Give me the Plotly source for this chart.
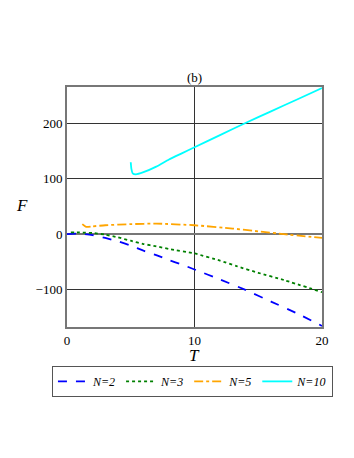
import plotly.graph_objects as go

# values
t_n2 = [0, 1, 2, 3, 4, 5, 6, 7, 8, 9, 10, 12, 14, 16, 18, 20]
f_n2 = [0, 1, -2, -7, -13, -21, -30, -38, -47, -55, -64, -82, -101, -122, -143, -166]

t_n3 = [0.3, 1, 2, 3, 4, 5, 6, 7, 8, 10, 12, 13.3, 15, 17, 20]
f_n3 = [3, 3, 2, -1, -6, -12, -18, -22, -27, -35, -48, -58, -70, -83, -105]

t_n5 = [1.2, 1.5, 2, 3, 5, 7, 10, 13, 15, 17, 20]
f_n5 = [18, 13, 14, 16, 18, 19, 16, 10, 5, 0, -7]

t_n10 = [5.0, 5.05, 5.15, 5.4, 6, 7, 8, 9, 10, 12, 14, 16, 18, 20]
f_n10 = [130, 118, 110, 108, 112, 122, 135, 146, 157, 179, 201, 222, 243, 264]

series = [
    ("N=2", t_n2, f_n2, "#0000ff", "dash"),
    ("N=3", t_n3, f_n3, "#008000", "dot"),
    ("N=5", t_n5, f_n5, "#ffa500", "dashdot"),
    ("N=10", t_n10, f_n10, "#00ffff", "solid"),
]

serif = "Liberation Serif, Times New Roman, serif"

fig = go.Figure()
for name, t, f, color, dash in series:
    fig.add_trace(go.Scatter(
        x=t, y=f, mode="lines", name=f"<i>{name}</i>",
        line=dict(color=color, dash=dash, width=1.8, shape="spline", smoothing=0.5),
    ))

axis_common = dict(
    showline=True, mirror=True, linecolor="#777777", linewidth=2,
    showgrid=True, gridcolor="#333333", gridwidth=1,
    zeroline=True, zerolinecolor="#777777", zerolinewidth=1.5,
    ticks="", tickfont=dict(family=serif, size=13, color="black"),
    automargin=False,
)

# page body adds an 8px offset, so the figure is 8px smaller and margins shifted
fig.update_layout(
    width=346, height=450,
    margin=dict(l=59, r=32, t=79, b=131),
    paper_bgcolor="white", plot_bgcolor="white",
    font=dict(family=serif, color="black"),
    xaxis=dict(range=[0, 20], tickvals=[0, 10, 20], **axis_common),
    yaxis=dict(range=[-168, 266], tickvals=[-100, 0, 100, 200], **axis_common),
    showlegend=True,
    legend=dict(
        orientation="h", x=-0.059, xanchor="left", y=-0.162, yanchor="top",
        bordercolor="#555555", borderwidth=1,
        font=dict(family=serif, size=12),
        itemwidth=30, tracegroupgap=0,
    ),
    annotations=[
        dict(text="(b)", x=0.5, y=1.0, xref="paper", yref="paper",
             xanchor="center", yanchor="bottom", showarrow=False,
             font=dict(family=serif, size=13)),
        dict(text="<i>F</i>", x=-0.176, y=0.505, xref="paper", yref="paper",
             xanchor="center", yanchor="middle", showarrow=False,
             font=dict(family=serif, size=17)),
        dict(text="<i>T</i>", x=0.5, y=-0.12, xref="paper", yref="paper",
             xanchor="center", yanchor="middle", showarrow=False,
             font=dict(family=serif, size=17)),
    ],
)

fig.write_html("out.html")
